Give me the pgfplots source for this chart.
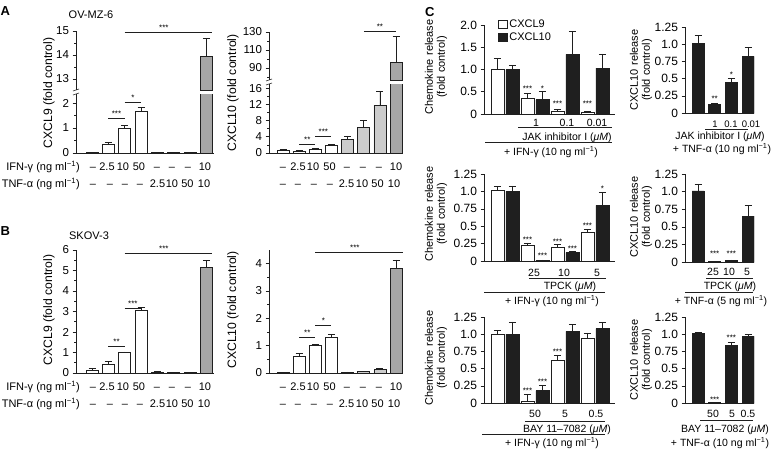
\documentclass[border=0pt]{standalone}
\usepackage{fontspec}
\setmainfont{Liberation Sans}
\usepackage{pgfplots}
\pgfplotsset{compat=1.18}

\definecolor{lgray}{gray}{0.80}
\definecolor{mgray}{gray}{0.65}
\definecolor{ink}{gray}{0.12}

\newcommand{\fs}{\fontsize{12.2}{14}\selectfont}
\newcommand{\ft}{\fontsize{11.5}{13}\selectfont}
\newcommand{\fr}{\fontsize{11}{13}\selectfont}
\newcommand{\fc}{\fontsize{10.5}{12}\selectfont}
\newcommand{\fst}{\fontsize{8}{8}\selectfont}
\newcommand{\um}{({\itshape μM})}
\newcommand{\inv}{\textsuperscript{−1}}
% text node, y = visual centre in px from the top
\newcommand{\T}[3]{\node[font=\fc, anchor=base, inner sep=0pt, yshift=-4pt] at (#1pt,-#2pt) {#3};}
\newcommand{\R}[3]{\node[font=\fr, anchor=base, inner sep=0pt, yshift=-4pt] at (#1pt,-#2pt) {#3};}
\newcommand{\HL}[3]{\draw[line width=0.6pt, ink] (#1pt,-#3pt) -- (#2pt,-#3pt);}

\tikzset{
  sig/.style={line width=0.6pt, ink},
  st/.style={font=\fst, anchor=base, inner sep=0pt, yshift=1.5pt},
}
\pgfplotsset{
  base/.style={
    scale only axis, anchor=south west, clip mode=individual,
    axis x line*=bottom, axis y line*=left,
    axis line style={line width=0.7pt, ink},
    xtick=\empty,
    ytick align=outside,
    major tick length=3.5pt, minor tick length=2pt,
    every tick/.style={line width=0.6pt, ink},
    tick label style={font=\ft},
    ybar, bar width=12pt,
  },
  upper/.style={base, axis x line=none},
  bb/.style={draw=ink, line width=0.6pt, bar shift=0pt,
    error bars/y dir=plus, error bars/y explicit,
    error bars/error bar style={line width=0.6pt, ink},
    error bars/error mark options={rotate=90, mark size=3.5pt, line width=0.6pt, ink}},
  boxleg/.style={legend image code/.code={\draw[##1,/tikz/.cd] (0pt,-4pt) rectangle (9pt,4pt);}},
  cpan/.style={base, tick label style={font=\fontsize{12}{13}\selectfont}},
  cl/.style={cpan, width=131pt, xmin=0.3, xmax=4.67, bar width=13pt},
  cr/.style={cpan, width=69pt, xmin=0.22, xmax=4.36, bar width=12pt},
  q/.style={ymin=0, ymax=1.25, ytick={0,0.25,0.5,0.75,1,1.25},
    yticklabels={0,0.25,0.5,0.75,1.0,1.25}},
}

\begin{document}
\begin{tikzpicture}
\path[use as bounding box] (0,0) rectangle (772pt,-450pt);

% ---------------- A ----------------
\node[font=\bfseries\fontsize{13}{13}\selectfont, anchor=base west, inner sep=0pt] at (0.5pt,-15pt) {A};
\node[font=\fr, anchor=base, inner sep=0pt] at (91pt,-18pt) {OV-MZ-6};

% CXCL9, lower part
\begin{axis}[base, at={(76pt,-153pt)}, width=138pt, height=59pt,
  xmin=0.02, xmax=8.47, ymin=0, ymax=2.36,
  ytick={0,1,2}, yticklabels={0,1,2}, minor ytick={0.5,1.5}]
\addplot[fill=white, bb] coordinates {(1,0.02) +- (0,0) (2,0.33) +- (0,0.1) (3,1.0) +- (0,0.1) (4,1.67) +- (0,0.17)};
\addplot[fill=lgray, bb] coordinates {(5,0.02) +- (0,0) (6,0.02) +- (0,0) (7,0.02) +- (0,0)};
\addplot[fill=mgray, bb] coordinates {(8,13.95) +- (0,0.75)};
\draw[sig] (axis cs:2,1.4) -- (axis cs:3,1.4);
\node[st] at (axis cs:2.5,1.4) {***};
\draw[sig] (axis cs:3,2.04) -- (axis cs:4,2.04);
\node[st] at (axis cs:3.5,2.04) {*};
\end{axis}
% CXCL9, upper part
\begin{axis}[upper, at={(76pt,-90pt)}, width=138pt, height=59pt,
  xmin=0.02, xmax=8.47, ymin=12.54, ymax=15,
  ytick={13,14,15}, yticklabels={13,14,15}, minor ytick={13.5,14.5}]
\addplot[fill=mgray, bb] coordinates {(8,13.95) +- (0,0.75)};
\draw[sig] (axis cs:3,14.95) -- (axis cs:8.35,14.95);
\node[st] at (axis cs:5.4,14.95) {***};
\end{axis}
\draw[sig] (73pt,-91pt) -- (79pt,-89pt);
\draw[sig] (73pt,-95pt) -- (79pt,-93pt);
\node[font=\fs, rotate=90] at (49pt,-93pt) {CXCL9 (fold control)};

% CXCL10, lower part
\begin{axis}[base, at={(269pt,-153pt)}, width=134pt, height=69pt,
  xmin=0.13, xmax=8.43, ymin=0, ymax=17.0,
  ytick={0,4,8,12,16}, yticklabels={0,4,8,12,16}, minor ytick={2,6,10,14}]
\addplot[fill=white, bb] coordinates {(1,0.65) +- (0,0.25) (2,0.5) +- (0,0.1) (3,1.0) +- (0,0.2) (4,2.0) +- (0,0.15)};
\addplot[fill=lgray, bb] coordinates {(5,3.4) +- (0,0.8) (6,6.4) +- (0,1.7) (7,11.8) +- (0,3.5)};
\addplot[fill=mgray, bb] coordinates {(8,96.5) +- (0,29)};
\draw[sig] (axis cs:2,2.2) -- (axis cs:3,2.2);
\node[st] at (axis cs:2.5,2.2) {**};
\draw[sig] (axis cs:3,4.2) -- (axis cs:4,4.2);
\node[st] at (axis cs:3.5,4.2) {***};
\end{axis}
% CXCL10, upper part
\begin{axis}[upper, at={(269pt,-80pt)}, width=134pt, height=48.5pt,
  xmin=0.13, xmax=8.43, ymin=76.7, ymax=130.5,
  ytick={90,110,130}, yticklabels={90,110,130}, minor ytick={80,100,120}]
\addplot[fill=mgray, bb] coordinates {(8,96.5) +- (0,29)};
\draw[sig] (axis cs:6,131.2) -- (axis cs:8,131.2);
\node[st] at (axis cs:7,131.2) {**};
\end{axis}
\draw[sig] (266pt,-81pt) -- (272pt,-79pt);
\draw[sig] (266pt,-85pt) -- (272pt,-83pt);
\node[font=\fs, rotate=90] at (233pt,-93pt) {CXCL10 (fold control)};

% dose rows, A
\node[font=\fr, anchor=base east, inner sep=0pt] at (80pt,-170pt) {IFN-γ (ng ml\inv)};
\node[font=\fr, anchor=base east, inner sep=0pt] at (80pt,-187pt) {TNF-α (ng ml\inv)};
\foreach \x/\t in {93/–,107/2.5,123/10,139/50,157/–,172/–,188/–,205/10,
                   283/–,298/2.5,313/10,329.5/50,347/–,363/–,379/–,396/10} {\R{\x}{166}{\t}}
\foreach \x/\t in {93/–,110/–,125/–,140/–,157.5/2.5,172/10,187.5/50,204/10,
                   283/–,298/–,314/–,330/–,346.5/2.5,362/10,377.5/50,394/10} {\R{\x}{183}{\t}}

% ---------------- B ----------------
\node[font=\bfseries\fontsize{13}{13}\selectfont, anchor=base west, inner sep=0pt] at (0.5pt,-235pt) {B};
\node[font=\fr, anchor=base, inner sep=0pt] at (89pt,-239pt) {SKOV-3};

\begin{axis}[base, at={(76pt,-373pt)}, width=138pt, height=123pt,
  xmin=0.02, xmax=8.47, ymin=0, ymax=6,
  ytick={0,...,6}, yticklabels={0,1,2,3,4,5,6}, minor tick num=1]
\addplot[fill=white, bb] coordinates {(1,0.12) +- (0,0.1) (2,0.42) +- (0,0.13) (3,1.0) +- (0,0.03) (4,3.05) +- (0,0.15)};
\addplot[fill=lgray, bb] coordinates {(5,0.04) +- (0,0.02) (6,0.03) +- (0,0.01) (7,0.02) +- (0,0.01)};
\addplot[fill=mgray, bb] coordinates {(8,5.17) +- (0,0.33)};
\draw[sig] (axis cs:2,1.32) -- (axis cs:3,1.32);
\node[st] at (axis cs:2.5,1.32) {**};
\draw[sig] (axis cs:3,3.17) -- (axis cs:4,3.17);
\node[st] at (axis cs:3.5,3.17) {***};
\draw[sig] (axis cs:3,5.85) -- (axis cs:8.35,5.85);
\node[st] at (axis cs:5.4,5.85) {***};
\end{axis}
\node[font=\fs, rotate=90] at (49pt,-310pt) {CXCL9 (fold control)};

\begin{axis}[base, at={(269pt,-373pt)}, width=134pt, height=123pt,
  xmin=0.13, xmax=8.43, ymin=0, ymax=4.5,
  ytick={0,...,4}, yticklabels={0,1,2,3,4}, minor tick num=1]
\addplot[fill=white, bb] coordinates {(1,0.01) +- (0,0) (2,0.62) +- (0,0.1) (3,1.0) +- (0,0.04) (4,1.3) +- (0,0.12)};
\addplot[fill=lgray, bb] coordinates {(5,0.03) +- (0,0.01) (6,0.05) +- (0,0.02) (7,0.12) +- (0,0.04)};
\addplot[fill=mgray, bb] coordinates {(8,3.84) +- (0,0.3)};
\draw[sig] (axis cs:2,1.32) -- (axis cs:3,1.32);
\node[st] at (axis cs:2.5,1.32) {**};
\draw[sig] (axis cs:3,1.76) -- (axis cs:4,1.76);
\node[st] at (axis cs:3.5,1.76) {*};
\draw[sig] (axis cs:3,4.43) -- (axis cs:8.4,4.43);
\node[st] at (axis cs:5.45,4.43) {***};
\end{axis}
\node[font=\fs, rotate=90] at (233pt,-310pt) {CXCL10 (fold control)};

\node[font=\fr, anchor=base east, inner sep=0pt] at (80pt,-390pt) {IFN-γ (ng ml\inv)};
\node[font=\fr, anchor=base east, inner sep=0pt] at (80pt,-407pt) {TNF-α (ng ml\inv)};
\foreach \x/\t in {93/–,107/2.5,123/10,139/50,157/–,172/–,188/–,205/10,
                   283/–,298/2.5,313/10,329.5/50,347/–,363/–,379/–,396/10} {\R{\x}{386}{\t}}
\foreach \x/\t in {93/–,110/–,125/–,140/–,157.5/2.5,172/10,187.5/50,204/10,
                   283/–,298/–,314/–,330/–,346.5/2.5,362/10,377.5/50,394/10} {\R{\x}{403}{\t}}

% ---------------- C ----------------
\node[font=\bfseries\fontsize{13}{13}\selectfont, anchor=base west, inner sep=0pt] at (425pt,-16pt) {C};

% row 1, JAK inhibitor I
\begin{axis}[cl, at={(484pt,-114pt)}, height=89pt,
  ymin=0, ymax=2.0, ytick={0,0.5,1,1.5,2}, yticklabels={0,0.5,1.0,1.5,2.0},
  legend style={at={(0.107,1.075)}, anchor=north west, draw=none, fill=none,
    font=\fr, row sep=1pt, inner sep=0pt, nodes={inner sep=1.5pt}},
  legend cell align=left]
\addplot[fill=white, bb, bar shift=-7.5pt, boxleg]
  coordinates {(1,1.0) +- (0,0.25) (2,0.35) +- (0,0.11) (3,0.07) +- (0,0.04) (4,0.03) +- (0,0.02)};
\addplot[fill=ink, bb, bar shift=7.5pt, boxleg]
  coordinates {(1,1.0) +- (0,0.1) (2,0.32) +- (0,0.19) (3,1.34) +- (0,0.51) (4,1.03) +- (0,0.32)};
\legend{CXCL9,CXCL10}
\node[st] at (axis cs:1.75,0.48) {***};
\node[st] at (axis cs:2.25,0.48) {*};
\node[st] at (axis cs:2.75,0.14) {***};
\node[st] at (axis cs:3.75,0.14) {***};
\end{axis}
\node[rotate=90, align=center, text width=120pt] at (436pt,-67pt)
  {\fontsize{11}{16}\selectfont Chemokine release\\(fold control)};
\T{536}{122}{1} \T{567}{122}{0.1} \T{597}{122}{0.01}
\HL{518}{612}{127}
\T{567}{136}{JAK inhibitor I \um}
\HL{485}{612}{142}
\T{551}{151}{+ IFN-γ (10 ng ml\inv)}

\begin{axis}[cr, at={(685pt,-113pt)}, height=86pt, q]
\addplot[fill=ink, bb] coordinates {(1,1.01) +- (0,0.12) (2,0.13) +- (0,0.01) (3,0.45) +- (0,0.05) (4,0.82) +- (0,0.13)};
\node[st] at (axis cs:2,0.15) {**};
\node[st] at (axis cs:3,0.50) {*};
\end{axis}
\node[rotate=90, align=center, text width=120pt] at (641pt,-70pt)
  {\fontsize{11}{14}\selectfont CXCL10 release\\(fold control)};
\begin{scope}[every node/.append style={font=\fontsize{9.5}{11}\selectfont}]
\node[anchor=base, inner sep=0pt] at (715pt,-127pt) {1};
\node[anchor=base, inner sep=0pt] at (731pt,-127pt) {0.1};
\node[anchor=base, inner sep=0pt] at (751pt,-127pt) {0.01};
\end{scope}
\HL{705}{748}{129.5}
\T{720}{135}{JAK inhibitor I \um}
\T{722}{148}{+ TNF-α (10 ng ml\inv)}

% row 2, TPCK
\begin{axis}[cl, at={(484pt,-261pt)}, height=87pt, q]
\addplot[fill=white, bb, bar shift=-7.5pt] coordinates {(1,1.01) +- (0,0.06) (2,0.22) +- (0,0.04) (3,0.19) +- (0,0.05) (4,0.41) +- (0,0.04)};
\addplot[fill=ink, bb, bar shift=7.5pt] coordinates {(1,1.0) +- (0,0.08) (2,0.01) +- (0,0.005) (3,0.12) +- (0,0.02) (4,0.8) +- (0,0.19)};
\node[st] at (axis cs:1.75,0.25) {***};
\node[st] at (axis cs:2.25,0.01) {***};
\node[st] at (axis cs:2.75,0.22) {***};
\node[st] at (axis cs:3.25,0.12) {***};
\node[st] at (axis cs:3.75,0.44) {***};
\node[st] at (axis cs:4.25,0.98) {*};
\end{axis}
\node[rotate=90, align=center, text width=120pt] at (436pt,-214pt)
  {\fontsize{11}{16}\selectfont Chemokine release\\(fold control)};
\T{534}{272}{25} \T{564}{272}{10} \T{597}{272}{5}
\HL{529}{606}{278}
\T{570}{285}{TPCK \um}
\HL{484}{605}{292}
\T{552}{300}{+ IFN-γ (10 ng ml\inv)}

\begin{axis}[cr, at={(685pt,-262pt)}, height=88pt, q]
\addplot[fill=ink, bb] coordinates {(1,1.01) +- (0,0.1) (2,0.005) +- (0,0) (3,0.02) +- (0,0.01) (4,0.65) +- (0,0.15)};
\node[st] at (axis cs:2,0.06) {***};
\node[st] at (axis cs:3,0.06) {***};
\end{axis}
\node[rotate=90, align=center, text width=120pt] at (641pt,-217pt)
  {\fontsize{11}{14}\selectfont CXCL10 release\\(fold control)};
\T{713}{271}{25} \T{729}{271}{10} \T{747}{271}{5}
\HL{706}{753}{278}
\T{730}{285}{TPCK \um}
\HL{685}{753}{292}
\T{721}{300}{+ TNF-α (5 ng ml\inv)}

% row 3, BAY 11-7082
\begin{axis}[cl, at={(484pt,-403pt)}, height=86pt, q]
\addplot[fill=white, bb, bar shift=-7.5pt] coordinates {(1,1.0) +- (0,0.05) (2,0.02) +- (0,0.11) (3,0.62) +- (0,0.08) (4,0.94) +- (0,0.08)};
\addplot[fill=ink, bb, bar shift=7.5pt] coordinates {(1,1.0) +- (0,0.18) (2,0.18) +- (0,0.08) (3,1.04) +- (0,0.1) (4,1.08) +- (0,0.09)};
\node[st] at (axis cs:1.75,0.12) {***};
\node[st] at (axis cs:2.25,0.24) {***};
\node[st] at (axis cs:2.75,0.69) {***};
\end{axis}
\node[rotate=90, align=center, text width=120pt] at (436pt,-358pt)
  {\fontsize{11}{16}\selectfont Chemokine release\\(fold control)};
\T{535}{413}{50} \T{565}{413}{5} \T{596}{413}{0.5}
\HL{525}{605}{421}
\T{567}{428}{BAY 11–7082 \um}
\HL{482}{605}{434}
\T{552}{442}{+ IFN-γ (10 ng ml\inv)}

\begin{axis}[cr, at={(685pt,-403pt)}, height=86pt, q]
\addplot[fill=ink, bb] coordinates {(1,1.01) +- (0,0.02) (2,0.005) +- (0,0) (3,0.84) +- (0,0.04) (4,0.97) +- (0,0.03)};
\node[st] at (axis cs:2,-0.02) {***};
\node[st] at (axis cs:3,0.88) {***};
\end{axis}
\node[rotate=90, align=center, text width=120pt] at (641pt,-360pt)
  {\fontsize{11}{14}\selectfont CXCL10 release\\(fold control)};
\T{713}{413}{50} \T{732}{413}{5} \T{748}{413}{0.5}
\HL{700}{753}{420}
\T{725}{428}{BAY 11–7082 \um}
\T{720}{442}{+ TNF-α (10 ng ml\inv)}
\end{tikzpicture}
\end{document}
